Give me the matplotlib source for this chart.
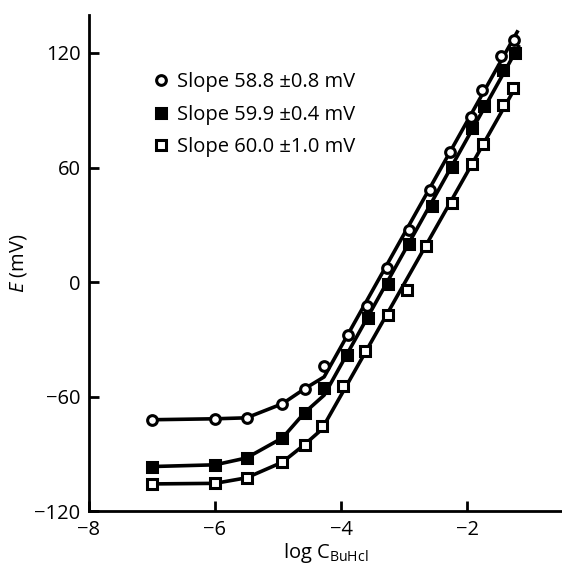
import numpy as np
import matplotlib
matplotlib.use('Agg')
import matplotlib.pyplot as plt

plt.rcParams['font.family'] = ['Open Sans', 'DejaVu Sans']
plt.rcParams['mathtext.fontset'] = 'custom'
plt.rcParams['mathtext.rm'] = 'Open Sans'
plt.rcParams['mathtext.it'] = 'Open Sans:italic'

# log concentration for each series
x_circ = [-7.0, -6.0, -5.5, -4.93, -4.58, -4.27, -3.89, -3.59, -3.27, -2.93, -2.60, -2.27, -1.95, -1.77, -1.47, -1.26]
e_circ = [-72.0, -71.5, -71.0, -63.6, -55.8, -44.0, -27.8, -12.6, 7.2, 27.3, 48.3, 68.3, 86.7, 100.7, 118.2, 126.9]

x_fsq = [-7.0, -6.0, -5.5, -4.93, -4.58, -4.27, -3.91, -3.57, -3.25, -2.92, -2.56, -2.24, -1.93, -1.74, -1.43, -1.24]
e_fsq = [-96.5, -95.6, -92.0, -81.5, -68.3, -55.2, -38.3, -19.0, -0.7, 19.9, 39.9, 60.5, 80.6, 92.0, 111.0, 120.0]

x_osq = [-7.0, -6.0, -5.5, -4.93, -4.58, -4.31, -3.97, -3.63, -3.25, -2.96, -2.65, -2.24, -1.93, -1.75, -1.43, -1.28]
e_osq = [-105.6, -105.3, -102.4, -94.2, -85.0, -75.5, -54.5, -36.0, -17.3, -4.2, 18.9, 41.6, 61.9, 72.4, 92.8, 101.6]

labels = ['Slope 58.8 \u00b10.8 mV', 'Slope 59.9 \u00b10.4 mV', 'Slope 60.0 \u00b11.0 mV']
# index where the linear part starts
lin_start = [5, 5, 5]

fig = plt.figure(figsize=(5.62, 5.67), dpi=100)
ax = fig.add_axes([0.158, 0.098, 0.842, 0.876])

series = [(x_circ, e_circ, 'o', 'white'), (x_fsq, e_fsq, 's', 'black'), (x_osq, e_osq, 's', 'white')]
for (xs, es, m, fc), lab, k in zip(series, labels, lin_start):
    xs = np.array(xs)
    es = np.array(es)
    p = np.polyfit(xs[k:], es[k:], 1)
    # curved low part then fitted straight line
    xl = np.r_[xs[:k], xs[k], xs[-1] + 0.05]
    yl = np.r_[es[:k], np.polyval(p, xs[k]), np.polyval(p, xs[-1] + 0.05)]
    ax.plot(xl, yl, color='black', lw=2.6, zorder=2)
    ax.plot(xs, es, ls='none', marker=m, ms=7, mfc=fc, mec='black', mew=2.2, zorder=3, label=lab)

leg = ax.legend(loc='upper left', bbox_to_anchor=(0.125, 0.9), frameon=False, fontsize=14.5,
                handlelength=0.5, handletextpad=0.55, labelspacing=0.6, borderaxespad=0)

ax.set_xlim(-8, -0.5)
ax.set_ylim(-120, 140)
ax.set_xticks([-8, -6, -4, -2])
ax.set_yticks([-120, -60, 0, 60, 120])
ax.set_xticklabels(['\u22128', '\u22126', '\u22124', '\u22122'])
ax.set_yticklabels(['\u2212120', '\u221260', '0', '60', '120'])
ax.tick_params(direction='in', length=7, width=2, labelsize=14.5, pad=6)
for s in ['top', 'right']:
    ax.spines[s].set_visible(False)
for s in ['left', 'bottom']:
    ax.spines[s].set_linewidth(2)

ax.set_xlabel(r'log $\mathrm{C}_{\mathrm{BuHcl}}$', fontsize=14.5, labelpad=1)
ax.set_ylabel(r'$E$ (mV)', fontsize=14.5, labelpad=4)

fig.savefig('out.png', dpi=100)
